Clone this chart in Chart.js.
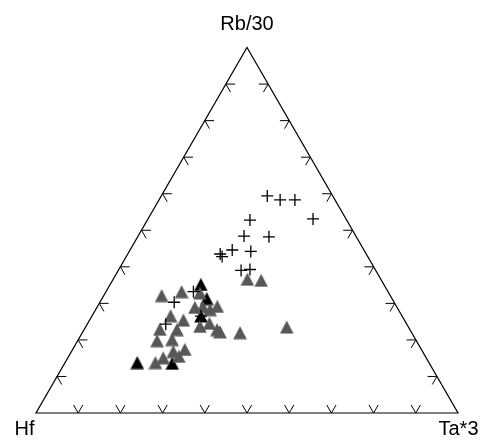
<!DOCTYPE html>
<html>
<head>
<meta charset="utf-8">
<script src="https://cdn.jsdelivr.net/npm/chart.js@4.4.0/dist/chart.umd.min.js"></script>
<style>
  html, body { margin: 0; padding: 0; background: #fff; }
  #wrap { width: 486px; height: 444px; position: relative; }
</style>
</head>
<body>
<div id="wrap"><canvas id="ternary"></canvas></div>
<script>
// apex labels: bottom-left, top, bottom-right
const APEX_LABELS = ["Hf", "Rb/30", "Ta*3"];
const TICK_STEPS = [10, 20, 30, 40, 50, 60, 70, 80, 90];

// every point is [Hf, Rb/30, Ta*3] in %
const crossPts = [
  [15.5, 59.4, 25.1], [13.0, 58.3, 28.7], [9.5, 58.3, 32.2], [7.8, 53.1, 39.1],
  [22.9, 52.8, 24.3], [26.5, 48.4, 25.1], [20.7, 48.2, 31.1], [31.2, 44.6, 24.2],
  [34.6, 43.5, 21.9], [34.5, 42.8, 22.7], [27.0, 44.2, 28.8], [31.9, 39.0, 29.1],
  [29.7, 39.3, 31.1], [52.1, 30.3, 17.6], [57.1, 24.3, 18.6], [46.1, 33.2, 20.7],
  [47.6, 26.5, 25.8],
];

const grayTriPts = [
  [54.1, 32.1, 13.7], [48.9, 33.2, 17.9], [44.7, 32.8, 22.4], [31.6, 36.6, 31.8],
  [28.5, 36.3, 35.2], [47.9, 28.9, 23.2], [46.0, 29.1, 25.0], [44.6, 28.3, 27.1],
  [42.5, 29.2, 28.4], [54.8, 26.6, 18.6], [52.3, 25.4, 22.2], [49.3, 23.7, 27.0],
  [46.6, 24.5, 28.8], [45.7, 22.8, 31.5], [45.3, 22.2, 32.5], [40.7, 22.0, 37.4],
  [28.8, 23.5, 47.6], [59.2, 22.9, 17.9], [55.2, 22.8, 22.0], [61.4, 19.8, 18.8],
  [57.7, 20.1, 22.2], [56.1, 17.4, 26.6], [59.0, 16.8, 24.1], [58.4, 15.5, 26.1],
  [62.3, 15.1, 22.6], [64.8, 13.8, 21.4],
];

const blackTriPts = [
  [43.4, 35.2, 21.5], [43.9, 31.3, 24.8], [47.6, 26.5, 25.8],
  [69.1, 13.8, 17.1], [60.9, 13.6, 25.5],
];

const H = Math.sqrt(3) / 2;

function toXY(p) {
  const sum = p[0] + p[1] + p[2];
  const rb = p[1] / sum, ta = p[2] / sum;
  return { x: ta + rb / 2, y: rb * H };
}

function triImage(color) {
  const c = document.createElement("canvas");
  c.width = 14; c.height = 14;
  const g = c.getContext("2d");
  g.fillStyle = color;
  g.beginPath();
  g.moveTo(7, 0.5);
  g.lineTo(13.8, 13.5);
  g.lineTo(0.2, 13.5);
  g.closePath();
  g.fill();
  return c;
}

const ternaryFrame = {
  id: "ternaryFrame",
  beforeDatasetsDraw(chart) {
    const { ctx, scales: { x, y } } = chart;
    const px = (u, v) => [x.getPixelForValue(u), y.getPixelForValue(v)];
    const a = px(0, 0), b = px(1, 0), c = px(0.5, H);

    ctx.save();
    ctx.strokeStyle = "#000";
    ctx.lineWidth = 1.2;
    ctx.beginPath();
    ctx.moveTo(...a); ctx.lineTo(...b); ctx.lineTo(...c);
    ctx.closePath();
    ctx.stroke();

    // little two-armed ticks pointing along the grid directions
    const L = 0.022;
    ctx.lineWidth = 1;
    TICK_STEPS.forEach(s => {
      const t = s / 100;
      const marks = [
        [[t, 0], [[0.5, H], [-0.5, H]]],
        [[t / 2, t * H], [[1, 0], [0.5, -H]]],
        [[1 - t / 2, t * H], [[-1, 0], [-0.5, -H]]],
      ];
      marks.forEach(([p, dirs]) => {
        dirs.forEach(d => {
          ctx.beginPath();
          ctx.moveTo(...px(p[0], p[1]));
          ctx.lineTo(...px(p[0] + d[0] * L, p[1] + d[1] * L));
          ctx.stroke();
        });
      });
    });

    ctx.fillStyle = "#000";
    ctx.font = '20px "Liberation Sans", Arial, sans-serif';
    ctx.textAlign = "center";
    ctx.textBaseline = "alphabetic";
    ctx.fillText(APEX_LABELS[0], a[0] - 11.5, a[1] + 22);
    ctx.fillText(APEX_LABELS[1], c[0], c[1] - 18);
    ctx.fillText(APEX_LABELS[2], b[0] + 0.5, b[1] + 22);
    ctx.restore();
  }
};

// triangle from x=36 to 458 px, base at y=413 px -> 422 px per unit
const UNIT = 422;
new Chart(document.getElementById("ternary"), {
  type: "scatter",
  data: {
    datasets: [
      {
        label: "cross",
        data: crossPts.map(toXY),
        pointStyle: "cross",
        pointRadius: 6,
        borderColor: "#000",
        borderWidth: 1.3,
        order: 0,
      },
      {
        label: "gray",
        data: grayTriPts.map(toXY),
        pointStyle: triImage("#575757"),
        pointRadius: 7,
        order: 1,
      },
      {
        label: "black",
        data: blackTriPts.map(toXY),
        pointStyle: triImage("#000"),
        pointRadius: 7,
        order: 2,
      },
    ],
  },
  options: {
    responsive: true,
    maintainAspectRatio: false,
    animation: false,
    events: [],
    layout: { padding: 0, autoPadding: false },
    plugins: { legend: { display: false }, tooltip: { enabled: false } },
    scales: {
      x: { type: "linear", display: false, min: -36 / UNIT, max: (486 - 36) / UNIT },
      y: { type: "linear", display: false, min: -(444 - 413) / UNIT, max: 413 / UNIT },
    },
  },
  plugins: [ternaryFrame],
});
</script>
</body>
</html>
